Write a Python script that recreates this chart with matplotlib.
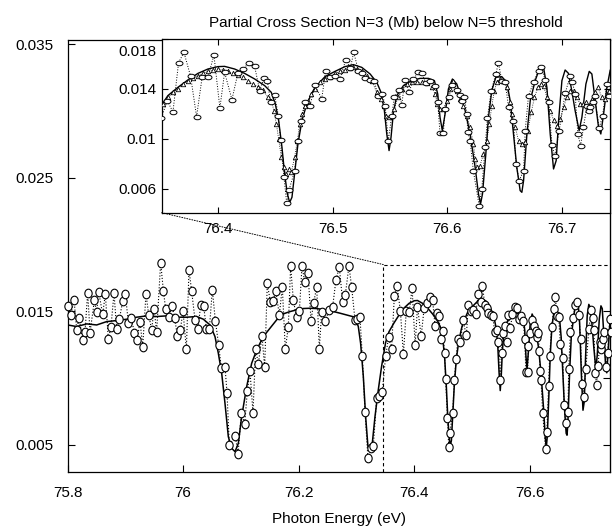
"""
Partial cross section N=3 below the N=5 threshold: full photon-energy scan
with a zoomed inset of the region above 76.35 eV.

Writes out.png (612x530 px).
"""

import matplotlib

matplotlib.use("Agg")  # no display required
import matplotlib.pyplot as plt
from matplotlib.patches import ConnectionPatch
from matplotlib.path import Path
from matplotlib.transforms import Affine2D, ScaledTranslation

plt.rcParams["font.family"] = ["Liberation Sans", "DejaVu Sans"]
plt.rcParams["font.size"] = 11


# ---- data ------------------------------------------------------------------

# measured points (open circles, joined by a dotted line)
exp_energy = [
    75.800, 75.8052, 75.8110, 75.8156, 75.8196, 75.8260, 75.8300, 75.8346,
    75.8387, 75.8462, 75.8502, 75.8537, 75.8606, 75.8652, 75.8704, 75.8750,
    75.8802, 75.8848, 75.8895, 75.8952, 75.8999, 75.9050, 75.9102, 75.9154,
    75.9201, 75.9253, 75.9299, 75.9356, 75.9403, 75.9455, 75.9495, 75.9541,
    75.9610, 75.9657, 75.9697, 75.9755, 75.9807, 75.9853, 75.9899, 75.9951,
    75.9997, 76.0055, 76.0101, 76.0147, 76.0205, 76.0257, 76.0303, 76.0355,
    76.0401, 76.0453, 76.0505, 76.0557, 76.0615, 76.0661, 76.0724, 76.0759,
    76.0799, 76.0903, 76.0950, 76.1007, 76.1065, 76.1111, 76.1157, 76.1209,
    76.1255, 76.1302, 76.1365, 76.1411, 76.1457, 76.1509, 76.1556, 76.1602,
    76.1665, 76.1717, 76.1769, 76.1821, 76.1861, 76.1908, 76.1965, 76.2012,
    76.2058, 76.2104, 76.2162, 76.2214, 76.2260, 76.2312, 76.2358, 76.2398,
    76.2462, 76.2531, 76.2589, 76.2646, 76.2704, 76.2762, 76.2808, 76.2871,
    76.2918, 76.2975, 76.3016, 76.3062, 76.3102, 76.3149, 76.3200, 76.3247,
    76.3293, 76.3351, 76.3397, 76.3449,
    76.3506, 76.3558, 76.3608, 76.3657, 76.3704, 76.3762, 76.3814, 76.3863,
    76.3913, 76.3965, 76.4017, 76.4058, 76.4122, 76.4174, 76.4218, 76.4267,
    76.4320, 76.4363, 76.4401, 76.4430, 76.4459, 76.4494, 76.4526, 76.4546,
    76.4575, 76.4599, 76.4619, 76.4668, 76.4697, 76.4727, 76.4756, 76.4802,
    76.4846, 76.4904, 76.4939, 76.4977, 76.5020, 76.5064, 76.5113, 76.5154,
    76.5183, 76.5224, 76.5259, 76.5282, 76.5326, 76.5363, 76.5392, 76.5433,
    76.5456, 76.5485, 76.5514, 76.5538, 76.5578, 76.5601, 76.5630, 76.5665,
    76.5703, 76.5747, 76.5776, 76.5810, 76.5848, 76.5892, 76.5915, 76.5935,
    76.5964, 76.5979, 76.6014, 76.6037, 76.6081, 76.6110, 76.6125, 76.6148,
    76.6168, 76.6177, 76.6197, 76.6226, 76.6276, 76.6299, 76.6328, 76.6348,
    76.6380, 76.6421, 76.6444, 76.6473, 76.6503, 76.6532, 76.6575, 76.6596,
    76.6625, 76.6663, 76.6677, 76.6706, 76.6750, 76.6793, 76.6817, 76.6852,
    76.6881, 76.6910, 76.6935, 76.6973, 76.7025, 76.7069, 76.7089, 76.7112,
    76.7136, 76.7159, 76.7185, 76.7214, 76.7229, 76.7243, 76.7264, 76.7281,
    76.7322, 76.7351, 76.7389, 76.7403,
]
exp_sigma = [
    0.01541, 0.01471, 0.01586, 0.01361, 0.01448, 0.01286, 0.01346, 0.01640,
    0.01341, 0.01581, 0.01498, 0.01645, 0.01478, 0.01630, 0.01291, 0.01386,
    0.01635, 0.01371, 0.01441, 0.01576, 0.01630, 0.01416, 0.01448, 0.01341,
    0.01286, 0.01423, 0.01236, 0.01630, 0.01473, 0.01361, 0.01521, 0.01348,
    0.01865, 0.01655, 0.01516, 0.01461, 0.01541, 0.01448, 0.01316, 0.01361,
    0.01503, 0.01216, 0.01810, 0.01650, 0.01436, 0.01371, 0.01548, 0.01541,
    0.01371, 0.01366, 0.01660, 0.01431, 0.01246, 0.01074, 0.01086, 0.00892,
    0.00500, 0.00567, 0.00433, 0.00742, 0.00657, 0.00902, 0.01052, 0.00742,
    0.01216, 0.01106, 0.01316, 0.01081, 0.01710, 0.01573, 0.01576, 0.01655,
    0.01476, 0.01680, 0.01216, 0.01386, 0.01840, 0.01581, 0.01456, 0.01501,
    0.01840, 0.01723, 0.01785, 0.01431, 0.01566, 0.01680, 0.01221, 0.01498,
    0.01431, 0.01511, 0.01536, 0.01735, 0.01830, 0.01573, 0.01623, 0.01840,
    0.01680, 0.01436, 0.01441, 0.01456, 0.01166, 0.00750, 0.00400, 0.00475,
    0.00493, 0.00849, 0.00867, 0.00899,
    0.01165, 0.01307, 0.01216, 0.01611, 0.01693, 0.01501, 0.01179, 0.01499,
    0.01493, 0.01672, 0.01248, 0.01533, 0.01315, 0.01528, 0.01560, 0.01605,
    0.01581, 0.01387, 0.01488, 0.01467, 0.01293, 0.01352, 0.01187, 0.00992,
    0.00699, 0.00488, 0.00592, 0.00741, 0.00987, 0.01141, 0.01293, 0.01267,
    0.01432, 0.01320, 0.01547, 0.01499, 0.01507, 0.01480, 0.01632, 0.01568,
    0.01693, 0.01547, 0.01525, 0.01485, 0.01475, 0.01467, 0.01347, 0.01360,
    0.01267, 0.00987, 0.01187, 0.01339, 0.01392, 0.01272, 0.01472, 0.01373,
    0.01480, 0.01533, 0.01528, 0.01445, 0.01467, 0.01427, 0.01293, 0.01045,
    0.01045, 0.01240, 0.01339, 0.01435, 0.01392, 0.01355, 0.01307, 0.01339,
    0.01200, 0.01053, 0.00987, 0.00741, 0.00467, 0.00600, 0.00939, 0.01168,
    0.01381, 0.01520, 0.01608, 0.01467, 0.01459, 0.01253, 0.01147, 0.00800,
    0.00667, 0.00747, 0.01067, 0.01347, 0.01453, 0.01547, 0.01573, 0.01472,
    0.01293, 0.00955, 0.00860, 0.01067, 0.01365, 0.01507, 0.01453, 0.01360,
    0.01040, 0.00947, 0.01093, 0.01267, 0.01221, 0.01259, 0.01293, 0.01347,
    0.01085, 0.01187, 0.01440, 0.01347,
]

# theory (solid line)
theory_energy = [
    75.800, 75.8156, 75.8329, 75.8502, 75.8675, 75.8848, 75.9022, 75.9195,
    75.9368, 75.9541, 75.9714, 75.9887, 76.0061, 76.0234, 76.0349, 76.0465,
    76.0551, 76.0609, 76.0667, 76.0724, 76.0782, 76.0840, 76.0898, 76.0955,
    76.1013, 76.1100, 76.1186, 76.1273, 76.1388, 76.1503, 76.1619, 76.1734,
    76.1850, 76.1965, 76.2081, 76.2196, 76.2300, 76.2485, 76.2716, 76.2889,
    76.2975, 76.3033, 76.3073, 76.3120, 76.3160, 76.3200, 76.3235, 76.3275,
    76.3322, 76.3379, 76.3437,
    76.3506, 76.3564, 76.3651, 76.3738, 76.3826, 76.3913, 76.4000, 76.4058,
    76.4145, 76.4232, 76.4320, 76.4407, 76.4465, 76.4500, 76.4529, 76.4558,
    76.4581, 76.4605, 76.4625, 76.4645, 76.4668, 76.4697, 76.4732, 76.4770,
    76.4814, 76.4846, 76.4933, 76.5020, 76.5107, 76.5180, 76.5253, 76.5326,
    76.5384, 76.5421, 76.5450, 76.5471, 76.5491, 76.5508, 76.5529, 76.5558,
    76.5616, 76.5688, 76.5761, 76.5834, 76.5886, 76.5915, 76.5935, 76.5955,
    76.5979, 76.6008, 76.6043, 76.6081, 76.6110, 76.6154, 76.6197, 76.6241,
    76.6270, 76.6288, 76.6305, 76.6334, 76.6357, 76.6386, 76.6421, 76.6473,
    76.6517, 76.6546, 76.6575, 76.6604, 76.6633, 76.6648, 76.6663, 76.6692,
    76.6721, 76.6764, 76.6808, 76.6837, 76.6866, 76.6895, 76.6924, 76.6947,
    76.6968, 76.6997, 76.7025, 76.7054, 76.7083, 76.7112, 76.7147, 76.7171,
    76.7206, 76.7235, 76.7258, 76.7287, 76.7316, 76.7336, 76.7360, 76.7389,
    76.7418, 76.7435,
]
theory_sigma = [
    0.01398, 0.01386, 0.01406, 0.01398, 0.01423, 0.01431, 0.01441, 0.01456,
    0.01466, 0.01461, 0.01466, 0.01456, 0.01456, 0.01461, 0.01441, 0.01398,
    0.01311, 0.01186, 0.01037, 0.00812, 0.00562, 0.00475, 0.00450, 0.00512,
    0.00712, 0.00937, 0.01111, 0.01211, 0.01311, 0.01373, 0.01436, 0.01481,
    0.01498, 0.01511, 0.01521, 0.01523, 0.01521, 0.01511, 0.01486, 0.01466,
    0.01456, 0.01386, 0.01261, 0.01012, 0.00712, 0.00488, 0.00450, 0.00512,
    0.00712, 0.00912, 0.01090,
    0.01267, 0.01347, 0.01413, 0.01472, 0.01525, 0.01560, 0.01579, 0.01581,
    0.01560, 0.01525, 0.01480, 0.01427, 0.01373, 0.01280, 0.01147, 0.00933,
    0.00720, 0.00560, 0.00493, 0.00533, 0.00720, 0.00960, 0.01147, 0.01267,
    0.01360, 0.01413, 0.01499, 0.01541, 0.01579, 0.01595, 0.01573, 0.01520,
    0.01453, 0.01373, 0.01227, 0.01040, 0.00907, 0.01013, 0.01213, 0.01347,
    0.01427, 0.01467, 0.01485, 0.01485, 0.01467, 0.01360, 0.01173, 0.01067,
    0.01200, 0.01400, 0.01480, 0.01440, 0.01360, 0.01227, 0.01040, 0.00773,
    0.00560, 0.00480, 0.00560, 0.00880, 0.01173, 0.01387, 0.01493, 0.01499,
    0.01453, 0.01307, 0.01040, 0.00773, 0.00587, 0.00573, 0.00667, 0.01040,
    0.01307, 0.01467, 0.01579, 0.01573, 0.01413, 0.01040, 0.00760, 0.00827,
    0.01147, 0.01467, 0.01552, 0.01525, 0.01387, 0.01227, 0.01067, 0.01173,
    0.01440, 0.01541, 0.01520, 0.01307, 0.01093, 0.01040, 0.01200, 0.01413,
    0.01552, 0.01533,
]

# second calculation, shown only in the inset (small triangles)
calc_energy = [
    76.3520, 76.3564, 76.3608, 76.3651, 76.3695, 76.3738, 76.3782, 76.3826,
    76.3869, 76.3913, 76.3956, 76.4000, 76.4044, 76.4087, 76.4131, 76.4174,
    76.4218, 76.4262, 76.4305, 76.4349, 76.4392, 76.4436, 76.4465, 76.4488,
    76.4509, 76.4529, 76.4552, 76.4575, 76.4593, 76.4616, 76.4639, 76.4668,
    76.4692, 76.4712, 76.4732, 76.4756, 76.4785, 76.4814, 76.4846, 76.4889,
    76.4933, 76.4976, 76.5020, 76.5064, 76.5107, 76.5151, 76.5180, 76.5209,
    76.5253, 76.5296, 76.5340, 76.5383, 76.5421, 76.5445, 76.5468, 76.5491,
    76.5514, 76.5538, 76.5567, 76.5602, 76.5645, 76.5689, 76.5732, 76.5776,
    76.5819, 76.5863, 76.5892, 76.5912, 76.5935, 76.5964, 76.5994, 76.6023,
    76.6052, 76.6085, 76.6110, 76.6139, 76.6168, 76.6197, 76.6226, 76.6241,
    76.6258, 76.6284, 76.6313, 76.6342, 76.6366, 76.6386, 76.6409, 76.6430,
    76.6459, 76.6488, 76.6517, 76.6546, 76.6566, 76.6590, 76.6619, 76.6648,
    76.6677, 76.6700, 76.6729, 76.6758, 76.6787, 76.6816, 76.6837, 76.6866,
    76.6895, 76.6924, 76.6953, 76.6982, 76.7011, 76.7040, 76.7069, 76.7098,
    76.7127, 76.7156, 76.7185, 76.7206, 76.7229, 76.7258, 76.7281, 76.7310,
    76.7345, 76.7374, 76.7403, 76.7432,
]
calc_sigma = [
    0.01280, 0.01333, 0.01373, 0.01400, 0.01440, 0.01467, 0.01485, 0.01507,
    0.01525, 0.01541, 0.01552, 0.01560, 0.01552, 0.01541, 0.01525, 0.01512,
    0.01493, 0.01467, 0.01440, 0.01419, 0.01392, 0.01333, 0.01307, 0.01227,
    0.01120, 0.01000, 0.00853, 0.00773, 0.00720, 0.00760, 0.00733, 0.00853,
    0.00987, 0.01120, 0.01200, 0.01267, 0.01307, 0.01360, 0.01400, 0.01453,
    0.01480, 0.01499, 0.01525, 0.01541, 0.01552, 0.01568, 0.01573, 0.01560,
    0.01541, 0.01507, 0.01467, 0.01373, 0.01320, 0.01267, 0.01187, 0.01173,
    0.01187, 0.01240, 0.01333, 0.01400, 0.01440, 0.01453, 0.01453, 0.01453,
    0.01445, 0.01413, 0.01360, 0.01280, 0.01240, 0.01240, 0.01307, 0.01400,
    0.01467, 0.01380, 0.01320, 0.01267, 0.01187, 0.01093, 0.00960, 0.00840,
    0.00773, 0.00787, 0.00880, 0.00987, 0.01120, 0.01267, 0.01387, 0.01453,
    0.01480, 0.01467, 0.01413, 0.01293, 0.01200, 0.01093, 0.00987, 0.00960,
    0.00973, 0.01067, 0.01213, 0.01333, 0.01413, 0.01440, 0.01427, 0.01333,
    0.01227, 0.01152, 0.01107, 0.01160, 0.01253, 0.01333, 0.01387, 0.01387,
    0.01333, 0.01280, 0.01280, 0.01293, 0.01267, 0.01320, 0.01373, 0.01413,
    0.01333, 0.01320, 0.01387, 0.01413,
]

main_xlim = (75.8, 76.740)
main_ylim = (0.003, 0.0353)
main_xticks = [75.8, 76.0, 76.2, 76.4, 76.6]
main_xticklabels = ["75.8", "76", "76.2", "76.4", "76.6"]
main_yticks = [0.005, 0.015, 0.025, 0.035]
main_yticklabels = ["0.005", "0.015", "0.025", "0.035"]
main_right_yticks = [0.005, 0.010, 0.015]

inset_xlim = (76.351, 76.742)
inset_ylim = (0.0041, 0.018)
inset_xticks = [76.4, 76.5, 76.6, 76.7]
inset_xticklabels = ["76.4", "76.5", "76.6", "76.7"]
inset_yticks = [0.006, 0.010, 0.014, 0.018]
inset_yticklabels = ["0.006", "0.01", "0.014", "0.018"]

# corner of the zoomed region marked on the main axes
zoom_corner = (76.3465, 0.0185)

TITLE = "Partial Cross Section N=3 (Mb) below N=5 threshold"
XLABEL = "Photon Energy (eV)"


# ---- helpers ---------------------------------------------------------------

def ellipse_marker(sx: float, sy: float) -> Path:
    """Open-circle marker squashed to an ellipse (aspect kept by matplotlib)."""
    return Path.unit_circle().transformed(Affine2D().scale(sx, sy))


# ---- figure ----------------------------------------------------------------

fig = plt.figure(figsize=(6.12, 5.30), dpi=100)
ax = fig.add_axes([0.1106, 0.1100, 0.8869, 0.8145])

ax.plot(theory_energy, theory_sigma, color="black", lw=1.1, zorder=2)
ax.plot(
    exp_energy, exp_sigma, ls=":", color="black", lw=0.8,
    marker=ellipse_marker(0.85, 1.0), ms=6.2, mfc="white", mec="black",
    mew=0.8, zorder=3, clip_on=False,
)

# dashed outline of the zoomed region
ax.plot(
    [zoom_corner[0], zoom_corner[0], main_xlim[1]],
    [main_ylim[0], zoom_corner[1], zoom_corner[1]],
    ls=(0, (3, 2.5)), color="black", lw=0.8, zorder=1,
)

ax.set_xlim(*main_xlim)
ax.set_ylim(*main_ylim)
ax.set_xticks(main_xticks)
ax.set_xticklabels(main_xticklabels)
ax.set_yticks(main_yticks)
ax.set_yticklabels(main_yticklabels)
ax.tick_params(direction="in", length=5, width=0.8, pad=10, labelsize=11)
ax.set_xlabel(XLABEL, fontsize=11, labelpad=9)
for side in ax.spines.values():
    side.set_linewidth(0.9)

right = ax.secondary_yaxis("right")
right.set_yticks(main_right_yticks)
right.set_yticklabels([])
right.tick_params(direction="in", length=5, width=0.8)

# ---- inset -----------------------------------------------------------------

ins = fig.add_axes([0.2642, 0.5987, 0.7333, 0.3277])
ins.set_facecolor("white")
ins.plot(theory_energy, theory_sigma, color="black", lw=1.0, zorder=2)
ins.plot(
    calc_energy, calc_sigma, ls=":", color="black", lw=0.6,
    marker="^", ms=3.2, mfc="white", mec="black", mew=0.6, zorder=3,
)
ins.plot(
    exp_energy, exp_sigma, ls=":", color="black", lw=0.7,
    marker=ellipse_marker(1.0, 0.65), ms=5.0, mfc="white", mec="black",
    mew=0.7, zorder=4,
)
ins.set_xlim(*inset_xlim)
ins.set_ylim(*inset_ylim)
ins.set_xticks(inset_xticks)
ins.set_xticklabels(inset_xticklabels)
ins.set_yticks(inset_yticks)
ins.set_yticklabels(inset_yticklabels)
ins.tick_params(direction="in", length=4, width=0.8, top=True, right=True,
                labelsize=11)
ins.tick_params(axis="x", pad=7)
ins.tick_params(axis="y", pad=4)
ins.set_title(TITLE, fontsize=11, pad=9)
for side in ins.spines.values():
    side.set_linewidth(0.9)

# top inset label sits a little below its tick
top_label = ins.get_yticklabels()[-1]
top_label.set_transform(
    top_label.get_transform() + ScaledTranslation(0, -8 / 72, fig.dpi_scale_trans)
)

# dotted leader from the inset corner to the zoomed region
leader = ConnectionPatch(
    xyA=(0, 0), coordsA="axes fraction", axesA=ins,
    xyB=zoom_corner, coordsB="data", axesB=ax,
    ls=":", lw=0.7, color="black",
)
fig.add_artist(leader)

fig.savefig("out.png", dpi=100)
plt.close(fig)
